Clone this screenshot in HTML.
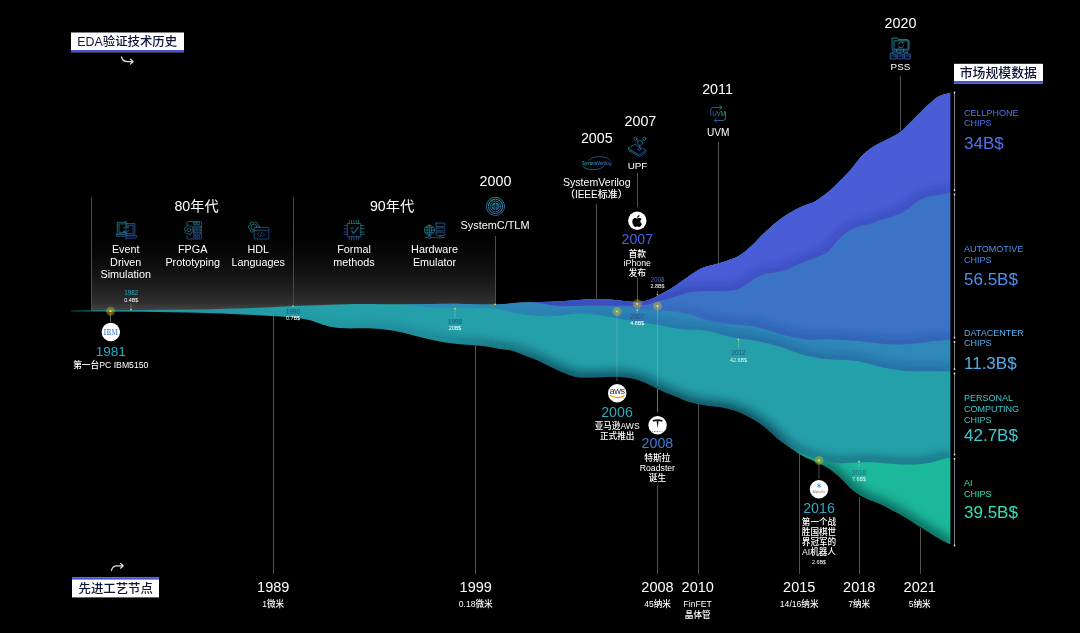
<!DOCTYPE html><html lang="zh"><head><meta charset="utf-8"><title>EDA验证技术历史</title>
<style>html,body{margin:0;padding:0;background:#000;}body{width:1080px;height:633px;overflow:hidden;}svg{display:block;font-family:"Liberation Sans","Noto Sans CJK SC",sans-serif;}text{white-space:pre;}</style></head><body>
<svg width="1080" height="633" viewBox="0 0 1080 633">
<defs>
<linearGradient id="gbox" x1="0" y1="197" x2="0" y2="311" gradientUnits="userSpaceOnUse"><stop offset="0" stop-color="#fff" stop-opacity="0"/><stop offset="0.377" stop-color="#fff" stop-opacity="0.01"/><stop offset="0.509" stop-color="#fff" stop-opacity="0.032"/><stop offset="0.684" stop-color="#fff" stop-opacity="0.08"/><stop offset="0.842" stop-color="#fff" stop-opacity="0.14"/><stop offset="0.93" stop-color="#fff" stop-opacity="0.19"/><stop offset="1" stop-color="#fff" stop-opacity="0.27"/></linearGradient>
<linearGradient id="gicon" x1="0" y1="0" x2="1" y2="1"><stop offset="0" stop-color="#1fa39a"/><stop offset="1" stop-color="#3452b4"/></linearGradient>
<linearGradient id="gteal" x1="71" y1="0" x2="951" y2="0" gradientUnits="userSpaceOnUse"><stop offset="0" stop-color="#1c8f9b"/><stop offset="0.3" stop-color="#24a0aa"/><stop offset="1" stop-color="#24a0aa"/></linearGradient>
<linearGradient id="ggrn" x1="790" y1="0" x2="951" y2="0" gradientUnits="userSpaceOnUse"><stop offset="0" stop-color="#1fae9f"/><stop offset="0.5" stop-color="#1bb89c"/><stop offset="1" stop-color="#1bb89c"/></linearGradient>
<radialGradient id="glow"><stop offset="0" stop-color="#f5e12a" stop-opacity="1"/><stop offset="0.17" stop-color="#f5e12a" stop-opacity="1"/><stop offset="0.27" stop-color="#d8c62c" stop-opacity="0.5"/><stop offset="1" stop-color="#d8c62c" stop-opacity="0.32"/></radialGradient>
<filter id="blur" x="-5%" y="-50%" width="110%" height="200%"><feGaussianBlur stdDeviation="5.2"/></filter>
<filter id="blur2" x="-5%" y="-50%" width="110%" height="200%"><feGaussianBlur stdDeviation="5.2"/></filter>
<clipPath id="cgrn"><path d="M790.6 446.0C794.7 448.1 798.9 450.6 803.0 452.3C807.3 454.1 811.5 455.3 815.8 456.6C820.0 457.9 824.3 459.1 828.5 459.9C832.7 460.7 836.8 461.1 841.0 461.2C845.3 461.3 849.5 460.9 853.8 460.7C858.0 460.5 862.2 459.9 866.4 459.9C870.6 459.9 874.8 460.4 879.0 460.7C883.2 461.0 887.5 461.4 891.7 461.7C895.9 462.0 900.1 462.4 904.3 462.5C908.5 462.6 912.8 462.8 917.0 462.5C921.2 462.2 925.4 461.6 929.6 460.7C933.7 459.9 937.9 458.4 942.0 457.4C945.0 456.7 948.0 456.2 951.0 455.6L951.0 544.6C948.0 543.2 945.0 542.0 942.0 540.3C937.9 538.0 933.7 535.2 929.6 532.7C925.4 530.1 921.2 527.6 917.0 525.0C912.8 522.3 908.5 519.3 904.3 516.8C900.1 514.3 895.9 512.2 891.7 510.0C887.5 507.8 883.2 505.5 879.0 503.6C874.8 501.7 870.6 500.7 866.4 498.6C862.2 496.5 858.0 494.3 853.8 491.0C849.5 487.6 845.3 482.2 841.0 478.4C836.8 474.7 832.7 471.0 828.5 468.3C824.3 465.5 820.0 464.0 815.8 462.0C811.5 459.9 807.3 458.4 803.0 456.0C798.9 453.7 794.7 450.7 790.6 448.0Z"/></clipPath>
<clipPath id="cteal"><path d="M71.0 310.7C95.0 310.5 119.0 310.2 143.0 310.0C161.7 309.8 180.3 309.7 199.0 309.4C217.3 309.1 235.7 308.6 254.0 308.0C267.0 307.5 280.0 306.7 293.0 306.1C307.9 305.5 322.9 304.8 337.8 304.4C348.5 304.1 359.3 304.0 370.0 304.0C382.3 304.0 394.7 304.3 407.0 304.3C423.0 304.2 439.0 303.7 455.0 303.7C468.3 303.7 481.7 304.7 495.0 304.5C503.7 304.4 512.3 303.1 521.0 302.6C527.7 302.2 534.3 302.1 541.0 301.9C547.8 301.7 554.7 301.7 561.5 301.3C568.3 300.9 575.2 300.2 582.0 299.7C586.7 299.4 591.3 298.9 596.0 298.9C601.3 298.9 606.7 299.3 612.0 299.7C616.7 300.1 621.3 300.8 626.0 301.2C630.0 301.6 634.0 302.3 638.0 302.0C642.0 301.7 646.0 300.9 650.0 299.5C654.3 297.9 658.7 295.4 663.0 293.0C667.3 290.7 671.5 288.3 675.8 285.5C680.0 282.8 684.3 279.4 688.5 276.5C692.7 273.7 696.8 270.5 701.0 268.5C705.2 266.5 709.5 265.9 713.7 264.7C717.9 263.4 722.2 262.5 726.4 261.0C730.6 259.5 734.8 258.3 739.0 255.8C743.2 253.2 747.5 249.5 751.7 245.7C755.9 241.9 760.1 237.0 764.3 233.0C768.5 229.0 772.8 225.0 777.0 221.7C781.2 218.4 785.4 215.6 789.6 213.0C793.7 210.5 797.9 208.4 802.0 206.5C806.3 204.5 810.6 203.8 814.9 201.5C819.1 199.2 823.3 196.0 827.5 192.6C831.7 189.2 835.8 185.1 840.0 181.0C843.9 177.1 847.9 173.0 851.8 168.5C855.2 164.6 858.6 159.3 862.0 155.8C865.3 152.4 868.7 149.8 872.0 147.6C877.0 144.4 882.0 142.3 887.0 139.6C891.3 137.3 895.5 135.3 899.8 132.4C902.3 130.7 904.9 128.2 907.4 125.8C910.8 122.6 914.1 119.0 917.5 115.6C920.9 112.2 924.2 108.6 927.6 105.5C931.0 102.4 934.3 99.2 937.7 97.0C940.1 95.4 942.6 94.9 945.0 94.2C947.0 93.6 949.0 93.4 951.0 93.0L951.0 457.6C948.0 458.2 945.0 458.7 942.0 459.4C937.9 460.4 933.7 461.9 929.6 462.7C925.4 463.6 921.2 464.2 917.0 464.5C912.8 464.8 908.5 464.6 904.3 464.5C900.1 464.4 895.9 464.0 891.7 463.7C887.5 463.4 883.2 463.0 879.0 462.7C874.8 462.4 870.6 461.9 866.4 461.9C862.2 461.9 858.0 462.5 853.8 462.7C849.5 462.9 845.3 463.3 841.0 463.2C836.8 463.1 832.7 462.7 828.5 461.9C824.3 461.1 820.0 459.9 815.8 458.6C811.5 457.3 807.3 456.1 803.0 454.3C798.9 452.6 794.7 450.5 790.6 448.0C786.4 445.4 782.2 442.4 778.0 439.0C773.8 435.6 769.5 430.8 765.3 427.5C761.1 424.2 756.9 421.5 752.7 419.0C748.5 416.5 744.2 414.2 740.0 412.4C735.8 410.7 731.7 409.5 727.5 408.5C723.3 407.5 719.2 407.1 715.0 406.5C710.7 405.9 706.3 405.5 702.0 404.7C697.9 404.0 693.7 403.3 689.6 402.0C685.4 400.7 681.2 398.7 677.0 397.0C672.8 395.3 668.5 393.9 664.3 392.0C660.1 390.1 655.9 387.6 651.7 385.7C647.5 383.7 643.2 381.7 639.0 380.3C634.8 378.9 630.6 378.1 626.4 377.5C622.2 376.9 618.0 376.8 613.8 376.8C609.5 376.7 605.3 377.1 601.0 377.2C596.8 377.3 592.7 377.6 588.5 377.6C584.3 377.5 580.0 377.7 575.8 376.9C571.5 376.1 567.3 374.3 563.0 372.6C558.9 370.9 554.7 368.8 550.6 366.8C546.4 364.8 542.2 362.3 538.0 360.4C533.7 358.5 529.3 357.1 525.0 355.4C520.9 353.8 516.7 351.8 512.6 350.7C508.4 349.6 504.2 349.7 500.0 349.0C495.0 348.2 490.0 347.0 485.0 346.3C480.0 345.6 475.0 345.5 470.0 345.0C461.7 344.2 453.3 343.8 445.0 342.5C436.7 341.2 428.3 338.9 420.0 337.0C411.7 335.1 403.3 332.4 395.0 331.0C386.7 329.6 378.3 328.8 370.0 328.3C361.7 327.9 353.3 328.6 345.0 328.3C340.7 328.2 336.3 327.8 332.0 327.0C328.0 326.3 324.0 324.9 320.0 323.7C316.7 322.7 313.3 321.1 310.0 320.3C305.0 319.1 300.0 318.3 295.0 317.7C290.0 317.1 285.0 316.8 280.0 316.5C271.3 315.9 262.7 315.4 254.0 315.0C235.7 314.2 217.3 313.3 199.0 312.8C180.3 312.2 161.7 311.9 143.0 311.7C119.0 311.4 95.0 311.4 71.0 311.3Z"/></clipPath>
<clipPath id="cdc"><path d="M400.0 304.3C402.3 304.3 404.7 304.3 407.0 304.3C423.0 304.1 439.0 303.7 455.0 303.7C468.3 303.7 481.7 304.7 495.0 304.5C503.7 304.4 512.3 303.1 521.0 302.6C527.7 302.2 534.3 302.1 541.0 301.9C547.8 301.7 554.7 301.7 561.5 301.3C568.3 300.9 575.2 300.2 582.0 299.7C586.7 299.4 591.3 298.9 596.0 298.9C601.3 298.9 606.7 299.3 612.0 299.7C616.7 300.1 621.3 300.8 626.0 301.2C630.0 301.6 634.0 302.3 638.0 302.0C642.0 301.7 646.0 300.9 650.0 299.5C654.3 297.9 658.7 295.4 663.0 293.0C667.3 290.7 671.5 288.3 675.8 285.5C680.0 282.8 684.3 279.4 688.5 276.5C692.7 273.7 696.8 270.5 701.0 268.5C705.2 266.5 709.5 265.9 713.7 264.7C717.9 263.4 722.2 262.5 726.4 261.0C730.6 259.5 734.8 258.3 739.0 255.8C743.2 253.2 747.5 249.5 751.7 245.7C755.9 241.9 760.1 237.0 764.3 233.0C768.5 229.0 772.8 225.0 777.0 221.7C781.2 218.4 785.4 215.6 789.6 213.0C793.7 210.5 797.9 208.4 802.0 206.5C806.3 204.5 810.6 203.8 814.9 201.5C819.1 199.2 823.3 196.0 827.5 192.6C831.7 189.2 835.8 185.1 840.0 181.0C843.9 177.1 847.9 173.0 851.8 168.5C855.2 164.6 858.6 159.3 862.0 155.8C865.3 152.4 868.7 149.8 872.0 147.6C877.0 144.4 882.0 142.3 887.0 139.6C891.3 137.3 895.5 135.3 899.8 132.4C902.3 130.7 904.9 128.2 907.4 125.8C910.8 122.6 914.1 119.0 917.5 115.6C920.9 112.2 924.2 108.6 927.6 105.5C931.0 102.4 934.3 99.2 937.7 97.0C940.1 95.4 942.6 94.9 945.0 94.2C947.0 93.6 949.0 93.4 951.0 93.0L951.0 371.4C944.9 371.4 938.9 371.4 932.8 371.3C924.4 371.2 915.9 371.7 907.5 371.0C899.0 370.3 890.5 368.9 882.0 367.2C873.7 365.5 865.3 362.2 857.0 360.9C848.6 359.6 840.1 360.4 831.7 359.6C823.3 358.8 814.8 357.9 806.4 355.8C797.9 353.7 789.5 349.5 781.0 347.0C772.6 344.5 764.2 342.4 755.8 340.7C747.4 339.0 739.0 338.6 730.6 336.9C722.1 335.2 713.5 331.9 705.0 330.6C697.9 329.5 690.8 330.3 683.7 329.5C676.8 328.7 669.9 326.9 663.0 325.7C656.3 324.6 649.7 323.7 643.0 322.7C636.2 321.7 629.4 320.8 622.6 319.6C615.7 318.4 608.9 316.5 602.0 315.5C595.3 314.5 588.7 313.5 582.0 313.5C575.2 313.5 568.3 315.0 561.5 315.5C556.6 315.9 551.6 316.2 546.7 316.2C541.1 316.2 535.6 315.9 530.0 315.3C524.3 314.7 518.7 313.9 513.0 312.8C507.7 311.7 502.3 309.4 497.0 308.7C491.3 307.9 485.7 308.3 480.0 308.2C471.7 308.1 463.3 308.3 455.0 308.2C446.7 308.1 438.3 307.9 430.0 307.3C420.0 306.6 410.0 305.3 400.0 304.3Z"/></clipPath>
<clipPath id="cblu"><path d="M596.0 298.9C601.3 299.2 606.7 299.3 612.0 299.7C616.7 300.1 621.3 300.8 626.0 301.2C630.0 301.6 634.0 302.3 638.0 302.0C642.0 301.7 646.0 300.9 650.0 299.5C654.3 297.9 658.7 295.4 663.0 293.0C667.3 290.7 671.5 288.3 675.8 285.5C680.0 282.8 684.3 279.4 688.5 276.5C692.7 273.7 696.8 270.5 701.0 268.5C705.2 266.5 709.5 265.9 713.7 264.7C717.9 263.4 722.2 262.5 726.4 261.0C730.6 259.5 734.8 258.3 739.0 255.8C743.2 253.2 747.5 249.5 751.7 245.7C755.9 241.9 760.1 237.0 764.3 233.0C768.5 229.0 772.8 225.0 777.0 221.7C781.2 218.4 785.4 215.6 789.6 213.0C793.7 210.5 797.9 208.4 802.0 206.5C806.3 204.5 810.6 203.8 814.9 201.5C819.1 199.2 823.3 196.0 827.5 192.6C831.7 189.2 835.8 185.1 840.0 181.0C843.9 177.1 847.9 173.0 851.8 168.5C855.2 164.6 858.6 159.3 862.0 155.8C865.3 152.4 868.7 149.8 872.0 147.6C877.0 144.4 882.0 142.3 887.0 139.6C891.3 137.3 895.5 135.3 899.8 132.4C902.3 130.7 904.9 128.2 907.4 125.8C910.8 122.6 914.1 119.0 917.5 115.6C920.9 112.2 924.2 108.6 927.6 105.5C931.0 102.4 934.3 99.2 937.7 97.0C940.1 95.4 942.6 94.9 945.0 94.2C947.0 93.6 949.0 93.4 951.0 93.0L951.0 339.8C944.9 340.2 938.9 340.4 932.8 341.0C925.9 341.7 918.9 343.1 912.0 343.8C907.3 344.3 902.7 344.4 898.0 344.4C892.7 344.4 887.3 344.2 882.0 343.7C873.7 342.9 865.3 341.4 857.0 340.7C848.6 340.0 840.1 339.6 831.7 339.4C823.3 339.2 814.8 340.2 806.4 339.4C797.9 338.5 789.5 336.4 781.0 334.3C772.6 332.2 764.2 328.5 755.8 326.8C747.4 325.1 739.0 325.3 730.6 324.3C724.3 323.5 718.0 322.6 711.7 321.5C709.5 321.1 707.2 320.7 705.0 320.0C700.9 318.6 696.8 316.3 692.7 315.2C686.4 313.5 680.0 312.3 673.7 311.5C667.5 310.7 661.2 310.8 655.0 310.3C648.7 309.8 642.3 308.9 636.0 308.4C629.3 307.8 622.7 307.5 616.0 307.0C609.3 306.5 602.7 306.0 596.0 305.5Z"/></clipPath>
<clipPath id="cind"><path d="M531.0 302.2C534.3 302.1 537.7 302.0 541.0 301.9C547.8 301.7 554.7 301.7 561.5 301.3C568.3 300.9 575.2 300.2 582.0 299.7C586.7 299.4 591.3 298.9 596.0 298.9C601.3 298.9 606.7 299.3 612.0 299.7C616.7 300.1 621.3 300.8 626.0 301.2C630.0 301.6 634.0 302.3 638.0 302.0C642.0 301.7 646.0 300.9 650.0 299.5C654.3 297.9 658.7 295.4 663.0 293.0C667.3 290.7 671.5 288.3 675.8 285.5C680.0 282.8 684.3 279.4 688.5 276.5C692.7 273.7 696.8 270.5 701.0 268.5C705.2 266.5 709.5 265.9 713.7 264.7C717.9 263.4 722.2 262.5 726.4 261.0C730.6 259.5 734.8 258.3 739.0 255.8C743.2 253.2 747.5 249.5 751.7 245.7C755.9 241.9 760.1 237.0 764.3 233.0C768.5 229.0 772.8 225.0 777.0 221.7C781.2 218.4 785.4 215.6 789.6 213.0C793.7 210.5 797.9 208.4 802.0 206.5C806.3 204.5 810.6 203.8 814.9 201.5C819.1 199.2 823.3 196.0 827.5 192.6C831.7 189.2 835.8 185.1 840.0 181.0C843.9 177.1 847.9 173.0 851.8 168.5C855.2 164.6 858.6 159.3 862.0 155.8C865.3 152.4 868.7 149.8 872.0 147.6C877.0 144.4 882.0 142.3 887.0 139.6C891.3 137.3 895.5 135.3 899.8 132.4C902.3 130.7 904.9 128.2 907.4 125.8C910.8 122.6 914.1 119.0 917.5 115.6C920.9 112.2 924.2 108.6 927.6 105.5C931.0 102.4 934.3 99.2 937.7 97.0C940.1 95.4 942.6 94.9 945.0 94.2C947.0 93.6 949.0 93.4 951.0 93.0L951.0 192.5C946.6 193.3 942.1 194.2 937.7 195.0C934.3 195.6 931.0 195.8 927.6 196.8C924.2 197.9 920.9 199.2 917.5 201.3C915.0 202.8 912.5 205.7 910.0 207.6C907.4 209.5 904.9 211.4 902.3 212.7C898.9 214.4 895.6 215.4 892.2 216.5C888.0 217.9 883.8 218.9 879.6 220.3C876.4 221.4 873.2 223.0 870.0 224.0C865.9 225.2 861.9 225.4 857.8 226.8C854.4 228.0 851.1 229.5 847.7 231.8C844.3 234.1 841.0 237.3 837.6 240.7C834.2 244.1 830.9 249.3 827.5 252.0C824.1 254.7 820.8 255.5 817.4 257.0C814.0 258.5 810.7 259.6 807.3 260.9C803.9 262.2 800.4 263.2 797.0 264.7C793.7 266.1 790.3 268.4 787.0 269.7C783.7 271.0 780.3 271.7 777.0 272.3C773.6 272.9 770.2 272.7 766.8 273.5C763.4 274.3 760.1 275.5 756.7 277.3C753.6 278.9 750.6 281.5 747.5 283.6C745.7 284.8 743.8 286.2 742.0 287.2C740.0 288.3 738.0 289.3 736.0 289.8C732.8 290.6 729.6 290.9 726.4 291.0C717.9 291.3 709.5 290.9 701.0 291.2C696.8 291.4 692.7 291.7 688.5 292.5C684.3 293.4 680.0 295.1 675.8 296.3C671.5 297.6 667.3 298.8 663.0 300.0C659.7 301.0 656.3 302.1 653.0 302.9C649.7 303.7 646.3 304.6 643.0 304.9C636.2 305.5 629.4 305.7 622.6 305.8C615.7 305.9 608.9 305.4 602.0 305.4C595.3 305.4 588.7 305.6 582.0 305.7C575.2 305.8 568.3 306.5 561.5 306.2C554.7 305.9 547.8 304.5 541.0 303.6C537.7 303.2 534.3 302.7 531.0 302.3Z"/></clipPath>
<clipPath id="cbox"><path d="M91.5 190L91.5 311.1 L143.0 310.6 L199.0 310.0 L254.0 308.6 L293.0 306.7 L337.8 305.0 L370.0 304.6 L407.0 304.9 L455.0 304.3 L495.0 305.1 L495 190Z"/></clipPath>
<clipPath id="cstream"><rect x="0" y="0" width="950.4" height="633"/></clipPath>
</defs>
<rect width="1080" height="633" fill="#000"/>
<rect x="91.5" y="195" width="403.5" height="118" fill="url(#gbox)" clip-path="url(#cbox)"/>
<line x1="91.5" y1="197.0" x2="91.5" y2="311.0" stroke="#484848" stroke-width="1"/>
<line x1="293.5" y1="197.0" x2="293.5" y2="307.0" stroke="#484848" stroke-width="1"/>
<line x1="495.5" y1="236.0" x2="495.5" y2="305.0" stroke="#4c4c4c" stroke-width="1"/>
<line x1="596.5" y1="204.0" x2="596.5" y2="300.0" stroke="#525252" stroke-width="1"/>
<line x1="637.5" y1="173.0" x2="637.5" y2="207.0" stroke="#525252" stroke-width="1"/>
<line x1="637.5" y1="278.0" x2="637.5" y2="303.0" stroke="#525252" stroke-width="1"/>
<line x1="718.5" y1="142.0" x2="718.5" y2="264.0" stroke="#525252" stroke-width="1"/>
<line x1="900.5" y1="76.0" x2="900.5" y2="131.0" stroke="#525252" stroke-width="1"/>
<line x1="273.5" y1="316.0" x2="273.5" y2="574.0" stroke="#525252" stroke-width="1"/>
<line x1="475.5" y1="345.0" x2="475.5" y2="574.0" stroke="#525252" stroke-width="1"/>
<line x1="657.5" y1="486.0" x2="657.5" y2="574.0" stroke="#525252" stroke-width="1"/>
<line x1="698.5" y1="404.0" x2="698.5" y2="574.0" stroke="#525252" stroke-width="1"/>
<line x1="799.5" y1="452.0" x2="799.5" y2="574.0" stroke="#525252" stroke-width="1"/>
<line x1="859.5" y1="497.0" x2="859.5" y2="574.0" stroke="#525252" stroke-width="1"/>
<line x1="920.5" y1="528.0" x2="920.5" y2="574.0" stroke="#525252" stroke-width="1"/>
<line x1="110.5" y1="313.0" x2="110.5" y2="322.0" stroke="#525252" stroke-width="1"/>
<line x1="617.0" y1="376.0" x2="617.0" y2="381.0" stroke="#555" stroke-width="1"/>
<line x1="657.5" y1="386.0" x2="657.5" y2="412.0" stroke="#6e6e6e" stroke-width="1"/>
<linearGradient id="sgrn" x1="0" y1="0" x2="951" y2="0" gradientUnits="userSpaceOnUse"><stop offset="0.8360" stop-color="#043434" stop-opacity="0"/><stop offset="0.8780" stop-color="#043434" stop-opacity="0.75"/><stop offset="1.0000" stop-color="#043434" stop-opacity="0.75"/></linearGradient>
<path d="M790.6 446.0C794.7 448.1 798.9 450.6 803.0 452.3C807.3 454.1 811.5 455.3 815.8 456.6C820.0 457.9 824.3 459.1 828.5 459.9C832.7 460.7 836.8 461.1 841.0 461.2C845.3 461.3 849.5 460.9 853.8 460.7C858.0 460.5 862.2 459.9 866.4 459.9C870.6 459.9 874.8 460.4 879.0 460.7C883.2 461.0 887.5 461.4 891.7 461.7C895.9 462.0 900.1 462.4 904.3 462.5C908.5 462.6 912.8 462.8 917.0 462.5C921.2 462.2 925.4 461.6 929.6 460.7C933.7 459.9 937.9 458.4 942.0 457.4C945.0 456.7 948.0 456.2 951.0 455.6L951.0 544.6C948.0 543.2 945.0 542.0 942.0 540.3C937.9 538.0 933.7 535.2 929.6 532.7C925.4 530.1 921.2 527.6 917.0 525.0C912.8 522.3 908.5 519.3 904.3 516.8C900.1 514.3 895.9 512.2 891.7 510.0C887.5 507.8 883.2 505.5 879.0 503.6C874.8 501.7 870.6 500.7 866.4 498.6C862.2 496.5 858.0 494.3 853.8 491.0C849.5 487.6 845.3 482.2 841.0 478.4C836.8 474.7 832.7 471.0 828.5 468.3C824.3 465.5 820.0 464.0 815.8 462.0C811.5 459.9 807.3 458.4 803.0 456.0C798.9 453.7 794.7 450.7 790.6 448.0Z" fill="url(#ggrn)"/>
<g clip-path="url(#cgrn)"><path d="M790.6 448.0C794.7 450.7 798.9 453.7 803.0 456.0C807.3 458.4 811.5 459.9 815.8 462.0C820.0 464.0 824.3 465.5 828.5 468.3C832.7 471.0 836.8 474.7 841.0 478.4C845.3 482.2 849.5 487.6 853.8 491.0C858.0 494.3 862.2 496.5 866.4 498.6C870.6 500.7 874.8 501.7 879.0 503.6C883.2 505.5 887.5 507.8 891.7 510.0C895.9 512.2 900.1 514.3 904.3 516.8C908.5 519.3 912.8 522.3 917.0 525.0C921.2 527.6 925.4 530.1 929.6 532.7C933.7 535.2 937.9 538.0 942.0 540.3C945.0 542.0 948.0 543.2 951.0 544.6" fill="none" stroke="url(#sgrn)" stroke-width="10" filter="url(#blur)"/></g>
<linearGradient id="steal" x1="0" y1="0" x2="951" y2="0" gradientUnits="userSpaceOnUse"><stop offset="0.2944" stop-color="#031a30" stop-opacity="0"/><stop offset="0.4732" stop-color="#031a30" stop-opacity="0.3"/><stop offset="0.5889" stop-color="#031a30" stop-opacity="0.75"/><stop offset="0.8149" stop-color="#031a30" stop-opacity="0.8"/><stop offset="0.8412" stop-color="#031a30" stop-opacity="0.42"/><stop offset="1.0000" stop-color="#031a30" stop-opacity="0.42"/></linearGradient>
<path d="M71.0 310.7C95.0 310.5 119.0 310.2 143.0 310.0C161.7 309.8 180.3 309.7 199.0 309.4C217.3 309.1 235.7 308.6 254.0 308.0C267.0 307.5 280.0 306.7 293.0 306.1C307.9 305.5 322.9 304.8 337.8 304.4C348.5 304.1 359.3 304.0 370.0 304.0C382.3 304.0 394.7 304.3 407.0 304.3C423.0 304.2 439.0 303.7 455.0 303.7C468.3 303.7 481.7 304.7 495.0 304.5C503.7 304.4 512.3 303.1 521.0 302.6C527.7 302.2 534.3 302.1 541.0 301.9C547.8 301.7 554.7 301.7 561.5 301.3C568.3 300.9 575.2 300.2 582.0 299.7C586.7 299.4 591.3 298.9 596.0 298.9C601.3 298.9 606.7 299.3 612.0 299.7C616.7 300.1 621.3 300.8 626.0 301.2C630.0 301.6 634.0 302.3 638.0 302.0C642.0 301.7 646.0 300.9 650.0 299.5C654.3 297.9 658.7 295.4 663.0 293.0C667.3 290.7 671.5 288.3 675.8 285.5C680.0 282.8 684.3 279.4 688.5 276.5C692.7 273.7 696.8 270.5 701.0 268.5C705.2 266.5 709.5 265.9 713.7 264.7C717.9 263.4 722.2 262.5 726.4 261.0C730.6 259.5 734.8 258.3 739.0 255.8C743.2 253.2 747.5 249.5 751.7 245.7C755.9 241.9 760.1 237.0 764.3 233.0C768.5 229.0 772.8 225.0 777.0 221.7C781.2 218.4 785.4 215.6 789.6 213.0C793.7 210.5 797.9 208.4 802.0 206.5C806.3 204.5 810.6 203.8 814.9 201.5C819.1 199.2 823.3 196.0 827.5 192.6C831.7 189.2 835.8 185.1 840.0 181.0C843.9 177.1 847.9 173.0 851.8 168.5C855.2 164.6 858.6 159.3 862.0 155.8C865.3 152.4 868.7 149.8 872.0 147.6C877.0 144.4 882.0 142.3 887.0 139.6C891.3 137.3 895.5 135.3 899.8 132.4C902.3 130.7 904.9 128.2 907.4 125.8C910.8 122.6 914.1 119.0 917.5 115.6C920.9 112.2 924.2 108.6 927.6 105.5C931.0 102.4 934.3 99.2 937.7 97.0C940.1 95.4 942.6 94.9 945.0 94.2C947.0 93.6 949.0 93.4 951.0 93.0L951.0 457.6C948.0 458.2 945.0 458.7 942.0 459.4C937.9 460.4 933.7 461.9 929.6 462.7C925.4 463.6 921.2 464.2 917.0 464.5C912.8 464.8 908.5 464.6 904.3 464.5C900.1 464.4 895.9 464.0 891.7 463.7C887.5 463.4 883.2 463.0 879.0 462.7C874.8 462.4 870.6 461.9 866.4 461.9C862.2 461.9 858.0 462.5 853.8 462.7C849.5 462.9 845.3 463.3 841.0 463.2C836.8 463.1 832.7 462.7 828.5 461.9C824.3 461.1 820.0 459.9 815.8 458.6C811.5 457.3 807.3 456.1 803.0 454.3C798.9 452.6 794.7 450.5 790.6 448.0C786.4 445.4 782.2 442.4 778.0 439.0C773.8 435.6 769.5 430.8 765.3 427.5C761.1 424.2 756.9 421.5 752.7 419.0C748.5 416.5 744.2 414.2 740.0 412.4C735.8 410.7 731.7 409.5 727.5 408.5C723.3 407.5 719.2 407.1 715.0 406.5C710.7 405.9 706.3 405.5 702.0 404.7C697.9 404.0 693.7 403.3 689.6 402.0C685.4 400.7 681.2 398.7 677.0 397.0C672.8 395.3 668.5 393.9 664.3 392.0C660.1 390.1 655.9 387.6 651.7 385.7C647.5 383.7 643.2 381.7 639.0 380.3C634.8 378.9 630.6 378.1 626.4 377.5C622.2 376.9 618.0 376.8 613.8 376.8C609.5 376.7 605.3 377.1 601.0 377.2C596.8 377.3 592.7 377.6 588.5 377.6C584.3 377.5 580.0 377.7 575.8 376.9C571.5 376.1 567.3 374.3 563.0 372.6C558.9 370.9 554.7 368.8 550.6 366.8C546.4 364.8 542.2 362.3 538.0 360.4C533.7 358.5 529.3 357.1 525.0 355.4C520.9 353.8 516.7 351.8 512.6 350.7C508.4 349.6 504.2 349.7 500.0 349.0C495.0 348.2 490.0 347.0 485.0 346.3C480.0 345.6 475.0 345.5 470.0 345.0C461.7 344.2 453.3 343.8 445.0 342.5C436.7 341.2 428.3 338.9 420.0 337.0C411.7 335.1 403.3 332.4 395.0 331.0C386.7 329.6 378.3 328.8 370.0 328.3C361.7 327.9 353.3 328.6 345.0 328.3C340.7 328.2 336.3 327.8 332.0 327.0C328.0 326.3 324.0 324.9 320.0 323.7C316.7 322.7 313.3 321.1 310.0 320.3C305.0 319.1 300.0 318.3 295.0 317.7C290.0 317.1 285.0 316.8 280.0 316.5C271.3 315.9 262.7 315.4 254.0 315.0C235.7 314.2 217.3 313.3 199.0 312.8C180.3 312.2 161.7 311.9 143.0 311.7C119.0 311.4 95.0 311.4 71.0 311.3Z" fill="url(#gteal)"/>
<g clip-path="url(#cteal)"><path d="M71.0 311.3C95.0 311.4 119.0 311.4 143.0 311.7C161.7 311.9 180.3 312.2 199.0 312.8C217.3 313.3 235.7 314.2 254.0 315.0C262.7 315.4 271.3 315.9 280.0 316.5C285.0 316.8 290.0 317.1 295.0 317.7C300.0 318.3 305.0 319.1 310.0 320.3C313.3 321.1 316.7 322.7 320.0 323.7C324.0 324.9 328.0 326.3 332.0 327.0C336.3 327.8 340.7 328.2 345.0 328.3C353.3 328.6 361.7 327.9 370.0 328.3C378.3 328.8 386.7 329.6 395.0 331.0C403.3 332.4 411.7 335.1 420.0 337.0C428.3 338.9 436.7 341.2 445.0 342.5C453.3 343.8 461.7 344.2 470.0 345.0C475.0 345.5 480.0 345.6 485.0 346.3C490.0 347.0 495.0 348.2 500.0 349.0C504.2 349.7 508.4 349.6 512.6 350.7C516.7 351.8 520.9 353.8 525.0 355.4C529.3 357.1 533.7 358.5 538.0 360.4C542.2 362.3 546.4 364.8 550.6 366.8C554.7 368.8 558.9 370.9 563.0 372.6C567.3 374.3 571.5 376.1 575.8 376.9C580.0 377.7 584.3 377.5 588.5 377.6C592.7 377.6 596.8 377.3 601.0 377.2C605.3 377.1 609.5 376.7 613.8 376.8C618.0 376.8 622.2 376.9 626.4 377.5C630.6 378.1 634.8 378.9 639.0 380.3C643.2 381.7 647.5 383.7 651.7 385.7C655.9 387.6 660.1 390.1 664.3 392.0C668.5 393.9 672.8 395.3 677.0 397.0C681.2 398.7 685.4 400.7 689.6 402.0C693.7 403.3 697.9 404.0 702.0 404.7C706.3 405.5 710.7 405.9 715.0 406.5C719.2 407.1 723.3 407.5 727.5 408.5C731.7 409.5 735.8 410.7 740.0 412.4C744.2 414.2 748.5 416.5 752.7 419.0C756.9 421.5 761.1 424.2 765.3 427.5C769.5 430.8 773.8 435.6 778.0 439.0C782.2 442.4 786.4 445.4 790.6 448.0C794.7 450.5 798.9 452.6 803.0 454.3C807.3 456.1 811.5 457.3 815.8 458.6C820.0 459.9 824.3 461.1 828.5 461.9C832.7 462.7 836.8 463.1 841.0 463.2C845.3 463.3 849.5 462.9 853.8 462.7C858.0 462.5 862.2 461.9 866.4 461.9C870.6 461.9 874.8 462.4 879.0 462.7C883.2 463.0 887.5 463.4 891.7 463.7C895.9 464.0 900.1 464.4 904.3 464.5C908.5 464.6 912.8 464.8 917.0 464.5C921.2 464.2 925.4 463.6 929.6 462.7C933.7 461.9 937.9 460.4 942.0 459.4C945.0 458.7 948.0 458.2 951.0 457.6" fill="none" stroke="url(#steal)" stroke-width="9" filter="url(#blur2)"/></g>
<linearGradient id="sdc" x1="0" y1="0" x2="951" y2="0" gradientUnits="userSpaceOnUse"><stop offset="0.4942" stop-color="#14286e" stop-opacity="0"/><stop offset="0.7992" stop-color="#14286e" stop-opacity="0.42"/><stop offset="1.0000" stop-color="#14286e" stop-opacity="0.42"/></linearGradient>
<path d="M400.0 304.3C402.3 304.3 404.7 304.3 407.0 304.3C423.0 304.1 439.0 303.7 455.0 303.7C468.3 303.7 481.7 304.7 495.0 304.5C503.7 304.4 512.3 303.1 521.0 302.6C527.7 302.2 534.3 302.1 541.0 301.9C547.8 301.7 554.7 301.7 561.5 301.3C568.3 300.9 575.2 300.2 582.0 299.7C586.7 299.4 591.3 298.9 596.0 298.9C601.3 298.9 606.7 299.3 612.0 299.7C616.7 300.1 621.3 300.8 626.0 301.2C630.0 301.6 634.0 302.3 638.0 302.0C642.0 301.7 646.0 300.9 650.0 299.5C654.3 297.9 658.7 295.4 663.0 293.0C667.3 290.7 671.5 288.3 675.8 285.5C680.0 282.8 684.3 279.4 688.5 276.5C692.7 273.7 696.8 270.5 701.0 268.5C705.2 266.5 709.5 265.9 713.7 264.7C717.9 263.4 722.2 262.5 726.4 261.0C730.6 259.5 734.8 258.3 739.0 255.8C743.2 253.2 747.5 249.5 751.7 245.7C755.9 241.9 760.1 237.0 764.3 233.0C768.5 229.0 772.8 225.0 777.0 221.7C781.2 218.4 785.4 215.6 789.6 213.0C793.7 210.5 797.9 208.4 802.0 206.5C806.3 204.5 810.6 203.8 814.9 201.5C819.1 199.2 823.3 196.0 827.5 192.6C831.7 189.2 835.8 185.1 840.0 181.0C843.9 177.1 847.9 173.0 851.8 168.5C855.2 164.6 858.6 159.3 862.0 155.8C865.3 152.4 868.7 149.8 872.0 147.6C877.0 144.4 882.0 142.3 887.0 139.6C891.3 137.3 895.5 135.3 899.8 132.4C902.3 130.7 904.9 128.2 907.4 125.8C910.8 122.6 914.1 119.0 917.5 115.6C920.9 112.2 924.2 108.6 927.6 105.5C931.0 102.4 934.3 99.2 937.7 97.0C940.1 95.4 942.6 94.9 945.0 94.2C947.0 93.6 949.0 93.4 951.0 93.0L951.0 371.4C944.9 371.4 938.9 371.4 932.8 371.3C924.4 371.2 915.9 371.7 907.5 371.0C899.0 370.3 890.5 368.9 882.0 367.2C873.7 365.5 865.3 362.2 857.0 360.9C848.6 359.6 840.1 360.4 831.7 359.6C823.3 358.8 814.8 357.9 806.4 355.8C797.9 353.7 789.5 349.5 781.0 347.0C772.6 344.5 764.2 342.4 755.8 340.7C747.4 339.0 739.0 338.6 730.6 336.9C722.1 335.2 713.5 331.9 705.0 330.6C697.9 329.5 690.8 330.3 683.7 329.5C676.8 328.7 669.9 326.9 663.0 325.7C656.3 324.6 649.7 323.7 643.0 322.7C636.2 321.7 629.4 320.8 622.6 319.6C615.7 318.4 608.9 316.5 602.0 315.5C595.3 314.5 588.7 313.5 582.0 313.5C575.2 313.5 568.3 315.0 561.5 315.5C556.6 315.9 551.6 316.2 546.7 316.2C541.1 316.2 535.6 315.9 530.0 315.3C524.3 314.7 518.7 313.9 513.0 312.8C507.7 311.7 502.3 309.4 497.0 308.7C491.3 307.9 485.7 308.3 480.0 308.2C471.7 308.1 463.3 308.3 455.0 308.2C446.7 308.1 438.3 307.9 430.0 307.3C420.0 306.6 410.0 305.3 400.0 304.3Z" fill="#2e88b8"/>
<g clip-path="url(#cdc)"><path d="M400.0 304.3C410.0 305.3 420.0 306.6 430.0 307.3C438.3 307.9 446.7 308.1 455.0 308.2C463.3 308.3 471.7 308.1 480.0 308.2C485.7 308.3 491.3 307.9 497.0 308.7C502.3 309.4 507.7 311.7 513.0 312.8C518.7 313.9 524.3 314.7 530.0 315.3C535.6 315.9 541.1 316.2 546.7 316.2C551.6 316.2 556.6 315.9 561.5 315.5C568.3 315.0 575.2 313.5 582.0 313.5C588.7 313.5 595.3 314.5 602.0 315.5C608.9 316.5 615.7 318.4 622.6 319.6C629.4 320.8 636.2 321.7 643.0 322.7C649.7 323.7 656.3 324.6 663.0 325.7C669.9 326.9 676.8 328.7 683.7 329.5C690.8 330.3 697.9 329.5 705.0 330.6C713.5 331.9 722.1 335.2 730.6 336.9C739.0 338.6 747.4 339.0 755.8 340.7C764.2 342.4 772.6 344.5 781.0 347.0C789.5 349.5 797.9 353.7 806.4 355.8C814.8 357.9 823.3 358.8 831.7 359.6C840.1 360.4 848.6 359.6 857.0 360.9C865.3 362.2 873.7 365.5 882.0 367.2C890.5 368.9 899.0 370.3 907.5 371.0C915.9 371.7 924.4 371.2 932.8 371.3C938.9 371.4 944.9 371.4 951.0 371.4" fill="none" stroke="url(#sdc)" stroke-width="8" filter="url(#blur)"/></g>
<linearGradient id="sblu" x1="0" y1="0" x2="951" y2="0" gradientUnits="userSpaceOnUse"><stop offset="0.6519" stop-color="#1c2478" stop-opacity="0"/><stop offset="0.7992" stop-color="#1c2478" stop-opacity="0.4"/><stop offset="1.0000" stop-color="#1c2478" stop-opacity="0.4"/></linearGradient>
<path d="M596.0 298.9C601.3 299.2 606.7 299.3 612.0 299.7C616.7 300.1 621.3 300.8 626.0 301.2C630.0 301.6 634.0 302.3 638.0 302.0C642.0 301.7 646.0 300.9 650.0 299.5C654.3 297.9 658.7 295.4 663.0 293.0C667.3 290.7 671.5 288.3 675.8 285.5C680.0 282.8 684.3 279.4 688.5 276.5C692.7 273.7 696.8 270.5 701.0 268.5C705.2 266.5 709.5 265.9 713.7 264.7C717.9 263.4 722.2 262.5 726.4 261.0C730.6 259.5 734.8 258.3 739.0 255.8C743.2 253.2 747.5 249.5 751.7 245.7C755.9 241.9 760.1 237.0 764.3 233.0C768.5 229.0 772.8 225.0 777.0 221.7C781.2 218.4 785.4 215.6 789.6 213.0C793.7 210.5 797.9 208.4 802.0 206.5C806.3 204.5 810.6 203.8 814.9 201.5C819.1 199.2 823.3 196.0 827.5 192.6C831.7 189.2 835.8 185.1 840.0 181.0C843.9 177.1 847.9 173.0 851.8 168.5C855.2 164.6 858.6 159.3 862.0 155.8C865.3 152.4 868.7 149.8 872.0 147.6C877.0 144.4 882.0 142.3 887.0 139.6C891.3 137.3 895.5 135.3 899.8 132.4C902.3 130.7 904.9 128.2 907.4 125.8C910.8 122.6 914.1 119.0 917.5 115.6C920.9 112.2 924.2 108.6 927.6 105.5C931.0 102.4 934.3 99.2 937.7 97.0C940.1 95.4 942.6 94.9 945.0 94.2C947.0 93.6 949.0 93.4 951.0 93.0L951.0 339.8C944.9 340.2 938.9 340.4 932.8 341.0C925.9 341.7 918.9 343.1 912.0 343.8C907.3 344.3 902.7 344.4 898.0 344.4C892.7 344.4 887.3 344.2 882.0 343.7C873.7 342.9 865.3 341.4 857.0 340.7C848.6 340.0 840.1 339.6 831.7 339.4C823.3 339.2 814.8 340.2 806.4 339.4C797.9 338.5 789.5 336.4 781.0 334.3C772.6 332.2 764.2 328.5 755.8 326.8C747.4 325.1 739.0 325.3 730.6 324.3C724.3 323.5 718.0 322.6 711.7 321.5C709.5 321.1 707.2 320.7 705.0 320.0C700.9 318.6 696.8 316.3 692.7 315.2C686.4 313.5 680.0 312.3 673.7 311.5C667.5 310.7 661.2 310.8 655.0 310.3C648.7 309.8 642.3 308.9 636.0 308.4C629.3 307.8 622.7 307.5 616.0 307.0C609.3 306.5 602.7 306.0 596.0 305.5Z" fill="#3b74c6"/>
<g clip-path="url(#cblu)"><path d="M596.0 305.5C602.7 306.0 609.3 306.5 616.0 307.0C622.7 307.5 629.3 307.8 636.0 308.4C642.3 308.9 648.7 309.8 655.0 310.3C661.2 310.8 667.5 310.7 673.7 311.5C680.0 312.3 686.4 313.5 692.7 315.2C696.8 316.3 700.9 318.6 705.0 320.0C707.2 320.7 709.5 321.1 711.7 321.5C718.0 322.6 724.3 323.5 730.6 324.3C739.0 325.3 747.4 325.1 755.8 326.8C764.2 328.5 772.6 332.2 781.0 334.3C789.5 336.4 797.9 338.5 806.4 339.4C814.8 340.2 823.3 339.2 831.7 339.4C840.1 339.6 848.6 340.0 857.0 340.7C865.3 341.4 873.7 342.9 882.0 343.7C887.3 344.2 892.7 344.4 898.0 344.4C902.7 344.4 907.3 344.3 912.0 343.8C918.9 343.1 925.9 341.7 932.8 341.0C938.9 340.4 944.9 340.2 951.0 339.8" fill="none" stroke="url(#sblu)" stroke-width="8" filter="url(#blur)"/></g>
<linearGradient id="sind" x1="0" y1="0" x2="951" y2="0" gradientUnits="userSpaceOnUse"><stop offset="0.5584" stop-color="#1a2280" stop-opacity="0.55"/><stop offset="0.6940" stop-color="#1a2280" stop-opacity="0.5"/><stop offset="0.8202" stop-color="#1a2280" stop-opacity="0.4"/><stop offset="1.0000" stop-color="#1a2280" stop-opacity="0.4"/></linearGradient>
<path d="M531.0 302.2C534.3 302.1 537.7 302.0 541.0 301.9C547.8 301.7 554.7 301.7 561.5 301.3C568.3 300.9 575.2 300.2 582.0 299.7C586.7 299.4 591.3 298.9 596.0 298.9C601.3 298.9 606.7 299.3 612.0 299.7C616.7 300.1 621.3 300.8 626.0 301.2C630.0 301.6 634.0 302.3 638.0 302.0C642.0 301.7 646.0 300.9 650.0 299.5C654.3 297.9 658.7 295.4 663.0 293.0C667.3 290.7 671.5 288.3 675.8 285.5C680.0 282.8 684.3 279.4 688.5 276.5C692.7 273.7 696.8 270.5 701.0 268.5C705.2 266.5 709.5 265.9 713.7 264.7C717.9 263.4 722.2 262.5 726.4 261.0C730.6 259.5 734.8 258.3 739.0 255.8C743.2 253.2 747.5 249.5 751.7 245.7C755.9 241.9 760.1 237.0 764.3 233.0C768.5 229.0 772.8 225.0 777.0 221.7C781.2 218.4 785.4 215.6 789.6 213.0C793.7 210.5 797.9 208.4 802.0 206.5C806.3 204.5 810.6 203.8 814.9 201.5C819.1 199.2 823.3 196.0 827.5 192.6C831.7 189.2 835.8 185.1 840.0 181.0C843.9 177.1 847.9 173.0 851.8 168.5C855.2 164.6 858.6 159.3 862.0 155.8C865.3 152.4 868.7 149.8 872.0 147.6C877.0 144.4 882.0 142.3 887.0 139.6C891.3 137.3 895.5 135.3 899.8 132.4C902.3 130.7 904.9 128.2 907.4 125.8C910.8 122.6 914.1 119.0 917.5 115.6C920.9 112.2 924.2 108.6 927.6 105.5C931.0 102.4 934.3 99.2 937.7 97.0C940.1 95.4 942.6 94.9 945.0 94.2C947.0 93.6 949.0 93.4 951.0 93.0L951.0 192.5C946.6 193.3 942.1 194.2 937.7 195.0C934.3 195.6 931.0 195.8 927.6 196.8C924.2 197.9 920.9 199.2 917.5 201.3C915.0 202.8 912.5 205.7 910.0 207.6C907.4 209.5 904.9 211.4 902.3 212.7C898.9 214.4 895.6 215.4 892.2 216.5C888.0 217.9 883.8 218.9 879.6 220.3C876.4 221.4 873.2 223.0 870.0 224.0C865.9 225.2 861.9 225.4 857.8 226.8C854.4 228.0 851.1 229.5 847.7 231.8C844.3 234.1 841.0 237.3 837.6 240.7C834.2 244.1 830.9 249.3 827.5 252.0C824.1 254.7 820.8 255.5 817.4 257.0C814.0 258.5 810.7 259.6 807.3 260.9C803.9 262.2 800.4 263.2 797.0 264.7C793.7 266.1 790.3 268.4 787.0 269.7C783.7 271.0 780.3 271.7 777.0 272.3C773.6 272.9 770.2 272.7 766.8 273.5C763.4 274.3 760.1 275.5 756.7 277.3C753.6 278.9 750.6 281.5 747.5 283.6C745.7 284.8 743.8 286.2 742.0 287.2C740.0 288.3 738.0 289.3 736.0 289.8C732.8 290.6 729.6 290.9 726.4 291.0C717.9 291.3 709.5 290.9 701.0 291.2C696.8 291.4 692.7 291.7 688.5 292.5C684.3 293.4 680.0 295.1 675.8 296.3C671.5 297.6 667.3 298.8 663.0 300.0C659.7 301.0 656.3 302.1 653.0 302.9C649.7 303.7 646.3 304.6 643.0 304.9C636.2 305.5 629.4 305.7 622.6 305.8C615.7 305.9 608.9 305.4 602.0 305.4C595.3 305.4 588.7 305.6 582.0 305.7C575.2 305.8 568.3 306.5 561.5 306.2C554.7 305.9 547.8 304.5 541.0 303.6C537.7 303.2 534.3 302.7 531.0 302.3Z" fill="#4a5dd6"/>
<g clip-path="url(#cind)"><path d="M531.0 302.3C534.3 302.7 537.7 303.2 541.0 303.6C547.8 304.5 554.7 305.9 561.5 306.2C568.3 306.5 575.2 305.8 582.0 305.7C588.7 305.6 595.3 305.4 602.0 305.4C608.9 305.4 615.7 305.9 622.6 305.8C629.4 305.7 636.2 305.5 643.0 304.9C646.3 304.6 649.7 303.7 653.0 302.9C656.3 302.1 659.7 301.0 663.0 300.0C667.3 298.8 671.5 297.6 675.8 296.3C680.0 295.1 684.3 293.4 688.5 292.5C692.7 291.7 696.8 291.4 701.0 291.2C709.5 290.9 717.9 291.3 726.4 291.0C729.6 290.9 732.8 290.6 736.0 289.8C738.0 289.3 740.0 288.3 742.0 287.2C743.8 286.2 745.7 284.8 747.5 283.6C750.6 281.5 753.6 278.9 756.7 277.3C760.1 275.5 763.4 274.3 766.8 273.5C770.2 272.7 773.6 272.9 777.0 272.3C780.3 271.7 783.7 271.0 787.0 269.7C790.3 268.4 793.7 266.1 797.0 264.7C800.4 263.2 803.9 262.2 807.3 260.9C810.7 259.6 814.0 258.5 817.4 257.0C820.8 255.5 824.1 254.7 827.5 252.0C830.9 249.3 834.2 244.1 837.6 240.7C841.0 237.3 844.3 234.1 847.7 231.8C851.1 229.5 854.4 228.0 857.8 226.8C861.9 225.4 865.9 225.2 870.0 224.0C873.2 223.0 876.4 221.4 879.6 220.3C883.8 218.9 888.0 217.9 892.2 216.5C895.6 215.4 898.9 214.4 902.3 212.7C904.9 211.4 907.4 209.5 910.0 207.6C912.5 205.7 915.0 202.8 917.5 201.3C920.9 199.2 924.2 197.9 927.6 196.8C931.0 195.8 934.3 195.6 937.7 195.0C942.1 194.2 946.6 193.3 951.0 192.5" fill="none" stroke="url(#sind)" stroke-width="8" filter="url(#blur)"/></g>
<rect x="950.4" y="85" width="3.2" height="470" fill="#000"/>
<line x1="617.0" y1="312.0" x2="617.0" y2="376.0" stroke="#e8e8d0" stroke-width="1" stroke-opacity="0.2"/>
<line x1="657.5" y1="307.0" x2="657.5" y2="386.0" stroke="#e8e8d0" stroke-width="1" stroke-opacity="0.2"/>
<line x1="819.0" y1="463.0" x2="819.0" y2="479.0" stroke="#e8e8d0" stroke-width="1" stroke-opacity="0.3"/>
<line x1="954.5" y1="92.5" x2="954.5" y2="190.3" stroke="#7c7c7c" stroke-width="1"/>
<rect x="953.8" y="91.6" width="1.4" height="1.800" fill="#f0f0f0"/>
<rect x="953.8" y="189.4" width="1.4" height="1.800" fill="#f0f0f0"/>
<line x1="954.5" y1="194.4" x2="954.5" y2="337.7" stroke="#7c7c7c" stroke-width="1"/>
<rect x="953.8" y="193.5" width="1.4" height="1.800" fill="#f0f0f0"/>
<rect x="953.8" y="336.8" width="1.4" height="1.800" fill="#f0f0f0"/>
<line x1="954.5" y1="341.9" x2="954.5" y2="369.2" stroke="#7c7c7c" stroke-width="1"/>
<rect x="953.8" y="341.0" width="1.4" height="1.800" fill="#f0f0f0"/>
<rect x="953.8" y="368.3" width="1.4" height="1.800" fill="#f0f0f0"/>
<line x1="954.5" y1="373.5" x2="954.5" y2="454.6" stroke="#7c7c7c" stroke-width="1"/>
<rect x="953.8" y="372.6" width="1.4" height="1.800" fill="#f0f0f0"/>
<rect x="953.8" y="453.7" width="1.4" height="1.800" fill="#f0f0f0"/>
<line x1="954.5" y1="458.8" x2="954.5" y2="545.5" stroke="#7c7c7c" stroke-width="1"/>
<rect x="953.8" y="457.9" width="1.4" height="1.800" fill="#f0f0f0"/>
<rect x="953.8" y="544.6" width="1.4" height="1.800" fill="#f0f0f0"/>
<rect x="71" y="32.5" width="113" height="19.7" fill="#fff"/><rect x="71" y="50" width="113" height="2.2" fill="#3f55d2"/>
<text x="127.2" y="46.3" font-size="12.4" fill="#0e1538" text-anchor="middle" font-weight="500">EDA验证技术历史</text>
<rect x="954" y="63.8" width="89" height="19.7" fill="#fff"/><rect x="954" y="81" width="89" height="2.5" fill="#3f55d2"/>
<text x="998.3" y="77.3" font-size="12.9" fill="#0e1538" text-anchor="middle" font-weight="500">市场规模数据</text>
<rect x="72" y="577.4" width="87" height="20" fill="#fff"/><rect x="72" y="577.4" width="87" height="2.2" fill="#3f55d2"/>
<text x="115.7" y="593.2" font-size="12.4" fill="#0e1538" text-anchor="middle" font-weight="500">先进工艺节点</text>
<path d="M121.5 57c0.8 3.6 3 4.6 6 4.6h5.5M130.6 59.2l2.6 2.4-2.6 2.4" fill="none" stroke="#ddd" stroke-width="1.25" stroke-linecap="round" stroke-linejoin="round"/>
<path d="M111.5 570.5c0.6-3.6 2.6-4.7 5.6-4.7h6M120.6 563.4l2.6 2.4-2.6 2.4" fill="none" stroke="#ddd" stroke-width="1.25" stroke-linecap="round" stroke-linejoin="round"/>
<text x="196.5" y="211.3" font-size="14.2" fill="#fff" text-anchor="middle">80年代</text>
<text x="392.0" y="211.3" font-size="14.2" fill="#fff" text-anchor="middle">90年代</text>
<text x="495.5" y="186.0" font-size="14.3" fill="#fff" text-anchor="middle">2000</text>
<text x="495.0" y="229.3" font-size="10.9" fill="#fff" text-anchor="middle">SystemC/TLM</text>
<text x="125.7" y="253.2" font-size="10.8" fill="#fff" text-anchor="middle">Event</text>
<text x="125.7" y="265.5" font-size="10.8" fill="#fff" text-anchor="middle">Driven</text>
<text x="125.7" y="277.8" font-size="10.8" fill="#fff" text-anchor="middle">Simulation</text>
<text x="192.7" y="253.2" font-size="10.8" fill="#fff" text-anchor="middle">FPGA</text>
<text x="192.7" y="265.5" font-size="10.8" fill="#fff" text-anchor="middle">Prototyping</text>
<text x="258.2" y="253.2" font-size="10.8" fill="#fff" text-anchor="middle">HDL</text>
<text x="258.2" y="265.5" font-size="10.8" fill="#fff" text-anchor="middle">Languages</text>
<text x="354.0" y="253.2" font-size="10.8" fill="#fff" text-anchor="middle">Formal</text>
<text x="354.0" y="265.5" font-size="10.8" fill="#fff" text-anchor="middle">methods</text>
<text x="434.5" y="253.2" font-size="10.8" fill="#fff" text-anchor="middle">Hardware</text>
<text x="434.5" y="265.5" font-size="10.8" fill="#fff" text-anchor="middle">Emulator</text>
<text x="596.8" y="142.8" font-size="14.3" fill="#fff" text-anchor="middle">2005</text>
<text x="596.8" y="186.1" font-size="10.6" fill="#fff" text-anchor="middle">SystemVerilog</text>
<text x="596.3" y="198.3" font-size="10" fill="#fff" text-anchor="middle" font-weight="500">（IEEE标准）</text>
<text x="640.4" y="126.3" font-size="14.3" fill="#fff" text-anchor="middle">2007</text>
<text x="637.5" y="168.7" font-size="9.9" fill="#fff" text-anchor="middle">UPF</text>
<text x="717.5" y="93.9" font-size="14.3" fill="#fff" text-anchor="middle">2011</text>
<text x="718.2" y="136.3" font-size="10.1" fill="#fff" text-anchor="middle">UVM</text>
<text x="900.5" y="28.0" font-size="14.3" fill="#fff" text-anchor="middle">2020</text>
<text x="900.4" y="70.3" font-size="9.8" fill="#fff" text-anchor="middle">PSS</text>
<text x="273.2" y="591.9" font-size="14.5" fill="#fff" text-anchor="middle">1989</text>
<text x="273.2" y="607.2" font-size="8.6" fill="#fff" text-anchor="middle" font-weight="500">1微米</text>
<text x="475.7" y="591.9" font-size="14.5" fill="#fff" text-anchor="middle">1999</text>
<text x="475.7" y="607.2" font-size="8.6" fill="#fff" text-anchor="middle" font-weight="500">0.18微米</text>
<text x="657.5" y="591.9" font-size="14.5" fill="#fff" text-anchor="middle">2008</text>
<text x="657.5" y="607.2" font-size="8.6" fill="#fff" text-anchor="middle" font-weight="500">45纳米</text>
<text x="697.7" y="591.9" font-size="14.5" fill="#fff" text-anchor="middle">2010</text>
<text x="697.7" y="607.2" font-size="8.6" fill="#fff" text-anchor="middle" font-weight="500">FinFET</text>
<text x="697.7" y="617.8" font-size="8.6" fill="#fff" text-anchor="middle" font-weight="500">晶体管</text>
<text x="799.2" y="591.9" font-size="14.5" fill="#fff" text-anchor="middle">2015</text>
<text x="799.2" y="607.2" font-size="8.6" fill="#fff" text-anchor="middle" font-weight="500">14/16纳米</text>
<text x="859.2" y="591.9" font-size="14.5" fill="#fff" text-anchor="middle">2018</text>
<text x="859.2" y="607.2" font-size="8.6" fill="#fff" text-anchor="middle" font-weight="500">7纳米</text>
<text x="919.7" y="591.9" font-size="14.5" fill="#fff" text-anchor="middle">2021</text>
<text x="919.7" y="607.2" font-size="8.6" fill="#fff" text-anchor="middle" font-weight="500">5纳米</text>
<text x="964.0" y="115.7" font-size="9" fill="#5272ee" text-anchor="start">CELLPHONE</text>
<text x="964.0" y="126.4" font-size="9" fill="#5272ee" text-anchor="start">CHIPS</text>
<text x="964.0" y="148.5" font-size="17" fill="#5272ee" text-anchor="start">34B$</text>
<text x="964.0" y="252.2" font-size="9" fill="#4a92f2" text-anchor="start">AUTOMOTIVE</text>
<text x="964.0" y="262.9" font-size="9" fill="#4a92f2" text-anchor="start">CHIPS</text>
<text x="964.0" y="285.2" font-size="17" fill="#4a92f2" text-anchor="start">56.5B$</text>
<text x="964.0" y="335.7" font-size="9" fill="#52acec" text-anchor="start">DATACENTER</text>
<text x="964.0" y="346.4" font-size="9" fill="#52acec" text-anchor="start">CHIPS</text>
<text x="964.0" y="369.1" font-size="17" fill="#52acec" text-anchor="start">11.3B$</text>
<text x="964.0" y="401.2" font-size="9" fill="#3ccad4" text-anchor="start">PERSONAL</text>
<text x="964.0" y="411.9" font-size="9" fill="#3ccad4" text-anchor="start">COMPUTING</text>
<text x="964.0" y="422.6" font-size="9" fill="#3ccad4" text-anchor="start">CHIPS</text>
<text x="964.0" y="441.2" font-size="17" fill="#3ccad4" text-anchor="start">42.7B$</text>
<text x="964.0" y="485.9" font-size="9" fill="#2ee4bc" text-anchor="start">AI</text>
<text x="964.0" y="496.6" font-size="9" fill="#2ee4bc" text-anchor="start">CHIPS</text>
<text x="964.0" y="518.2" font-size="17" fill="#2ee4bc" text-anchor="start">39.5B$</text>
<circle cx="110.5" cy="311.3" r="4.6" fill="url(#glow)"/>
<circle cx="617.0" cy="311.5" r="4.6" fill="url(#glow)"/>
<circle cx="637.3" cy="303.8" r="4.6" fill="url(#glow)"/>
<circle cx="657.5" cy="306.0" r="4.6" fill="url(#glow)"/>
<circle cx="819.0" cy="460.5" r="4.6" fill="url(#glow)"/>
<line x1="131.0" y1="309.5" x2="131.0" y2="303.5" stroke="#c4cf9a" stroke-width="0.7" stroke-opacity="0.5"/>
<circle cx="131.0" cy="309.5" r="0.85" fill="#f2df2b"/>
<circle cx="293.0" cy="306.0" r="0.85" fill="#f2df2b"/>
<line x1="455.0" y1="308.5" x2="455.0" y2="318.0" stroke="#c4cf9a" stroke-width="0.7" stroke-opacity="0.5"/>
<circle cx="455.0" cy="308.5" r="0.85" fill="#f2df2b"/>
<circle cx="495.0" cy="304.3" r="0.85" fill="#f2df2b"/>
<line x1="637.3" y1="310.0" x2="637.3" y2="313.0" stroke="#c4cf9a" stroke-width="0.7" stroke-opacity="0.5"/>
<circle cx="637.3" cy="310.0" r="0.85" fill="#f2df2b"/>
<line x1="657.5" y1="294.5" x2="657.5" y2="291.0" stroke="#c4cf9a" stroke-width="0.7" stroke-opacity="0.5"/>
<circle cx="657.5" cy="294.5" r="0.85" fill="#f2df2b"/>
<line x1="738.5" y1="339.5" x2="738.5" y2="348.0" stroke="#c4cf9a" stroke-width="0.7" stroke-opacity="0.5"/>
<circle cx="738.5" cy="339.5" r="0.85" fill="#f2df2b"/>
<line x1="859.0" y1="461.5" x2="859.0" y2="467.0" stroke="#c4cf9a" stroke-width="0.7" stroke-opacity="0.5"/>
<circle cx="859.0" cy="461.5" r="0.85" fill="#f2df2b"/>
<text x="131.3" y="295.0" font-size="6.4" fill="#2aa9bd" text-anchor="middle">1982</text>
<text x="131.3" y="301.6" font-size="5.4" fill="#fff" text-anchor="middle">0.4B$</text>
<text x="293.0" y="313.8" font-size="6.4" fill="#2b3f7a" text-anchor="middle">1990</text>
<text x="293.0" y="320.4" font-size="5.4" fill="#fff" text-anchor="middle">0.7B$</text>
<text x="455.0" y="323.7" font-size="6.4" fill="#2b4a86" text-anchor="middle">1998</text>
<text x="455.0" y="330.3" font-size="5.4" fill="#fff" text-anchor="middle">20B$</text>
<text x="637.3" y="318.8" font-size="6.4" fill="#2d4c86" text-anchor="middle">2007</text>
<text x="637.3" y="325.4" font-size="5.4" fill="#fff" text-anchor="middle">4.8B$</text>
<text x="657.5" y="281.7" font-size="6.4" fill="#4d64e4" text-anchor="middle">2008</text>
<text x="657.5" y="288.3" font-size="5.4" fill="#fff" text-anchor="middle">2.8B$</text>
<text x="738.5" y="355.2" font-size="6.4" fill="#2c4a80" text-anchor="middle">2012</text>
<text x="738.5" y="361.8" font-size="5.4" fill="#d8f4f4" text-anchor="middle">42.6B$</text>
<text x="859.0" y="474.8" font-size="6.4" fill="#1f6a78" text-anchor="middle">2018</text>
<text x="859.0" y="481.4" font-size="5.4" fill="#d8f4f4" text-anchor="middle">7.6B$</text>
<circle cx="110.8" cy="332.0" r="9.2" fill="#fff"/>
<text x="110.8" y="334.7" font-size="7.2" font-weight="bold" font-family="'Liberation Serif',serif" fill="#3f82cc" text-anchor="middle">IBM</text>
<path d="M102 330.400h18M102 331.800h18M102 333.200h18" stroke="#fff" stroke-width="0.45"/>
<text x="110.8" y="355.8" font-size="13.6" fill="#2aa9c2" text-anchor="middle">1981</text>
<text x="110.8" y="368.2" font-size="8.7" fill="#fff" text-anchor="middle" font-weight="500">第一台PC IBM5150</text>
<circle cx="637.3" cy="220.8" r="9.2" fill="#fff"/>
<path transform="translate(637.3,220.2) scale(0.5)" fill="#000" d="M6.2 2.3c0-3 2.5-4.4 2.6-4.5-1.4-2.1-3.6-2.4-4.4-2.4-1.9-.2-3.6 1.1-4.6 1.1-.9 0-2.4-1.1-3.9-1-2 0-3.900 1.200-4.900 3-2.100 3.600-.500 9 1.500 12 1 1.400 2.200 3.100 3.700 3 1.500-.1 2.100-1 3.900-1s2.300 1 3.900.9c1.600 0 2.600-1.500 3.600-2.900 1.100-1.700 1.600-3.300 1.600-3.400-.1 0-3-1.200-3-4.800zM3.200-6.400c.800-1 1.400-2.400 1.200-3.800-1.200.1-2.600.8-3.500 1.800-.8.900-1.400 2.300-1.200 3.600 1.300.1 2.700-.600 3.500-1.600z"/>
<text x="637.3" y="243.7" font-size="14.2" fill="#4a60e2" text-anchor="middle">2007</text>
<text x="637.3" y="256.6" font-size="8.8" fill="#fff" text-anchor="middle" font-weight="500">首款</text>
<text x="637.3" y="266.3" font-size="8.8" fill="#fff" text-anchor="middle" font-weight="500">iPhone</text>
<text x="637.3" y="276.0" font-size="8.8" fill="#fff" text-anchor="middle" font-weight="500">发布</text>
<circle cx="617.2" cy="393.3" r="9.2" fill="#fff"/>
<text x="617.2" y="394" font-size="9.2" fill="#252f3e" text-anchor="middle" letter-spacing="-0.3">aws</text><path d="M610.2 395.6q7 4 14 0.200" fill="none" stroke="#f79a1c" stroke-width="1.1" stroke-linecap="round"/>
<text x="617.0" y="416.8" font-size="14.2" fill="#2aa9b8" text-anchor="middle">2006</text>
<text x="617.2" y="429.3" font-size="8.6" fill="#fff" text-anchor="middle" font-weight="500">亚马逊AWS</text>
<text x="617.2" y="438.7" font-size="8.6" fill="#fff" text-anchor="middle" font-weight="500">正式推出</text>
<circle cx="657.6" cy="425.2" r="9.2" fill="#fff"/>
<path d="M652.400 420.200q5.200-2 10.400 0l-.9 1.500q-1.800-.7-3.300-.7l-1 7.200-1-7.200q-1.500 0-3.300.7z" fill="#111"/>
<text x="657.9" y="432.4" font-size="2.5" fill="#222" text-anchor="middle" letter-spacing="0.9" font-weight="bold">TESLA</text>
<text x="657.4" y="448.4" font-size="14.2" fill="#3c7cd2" text-anchor="middle">2008</text>
<text x="657.4" y="461.2" font-size="8.7" fill="#fff" text-anchor="middle" font-weight="500">特斯拉</text>
<text x="657.4" y="471.1" font-size="8.7" fill="#fff" text-anchor="middle" font-weight="500">Roadster</text>
<text x="657.4" y="481.0" font-size="8.7" fill="#fff" text-anchor="middle" font-weight="500">诞生</text>
<circle cx="819.0" cy="489.3" r="9.2" fill="#fff"/>
<path d="M819 483.200l0 5M816.800 484.400l4.400 2.600M821.200 484.400l-4.400 2.600" stroke="#3d8fd8" stroke-width="0.8" fill="none"/>
<text x="819" y="493.2" font-size="3.2" fill="#777" text-anchor="middle">AlphaGo</text>
<text x="819.0" y="513.2" font-size="14.2" fill="#2aa9c2" text-anchor="middle">2016</text>
<text x="819.0" y="525.4" font-size="8.6" fill="#fff" text-anchor="middle" font-weight="500">第一个战</text>
<text x="819.0" y="535.1" font-size="8.6" fill="#fff" text-anchor="middle" font-weight="500">胜国棋世</text>
<text x="819.0" y="544.9" font-size="8.6" fill="#fff" text-anchor="middle" font-weight="500">界冠军的</text>
<text x="819.0" y="554.6" font-size="8.6" fill="#fff" text-anchor="middle" font-weight="500">AI机器人</text>
<text x="819.0" y="564.0" font-size="5.4" fill="#fff" text-anchor="middle">2.6B$</text>
<defs><linearGradient id="gi1" x1="-9" y1="-9" x2="9" y2="9" gradientUnits="userSpaceOnUse"><stop offset="0" stop-color="#1c9a8e"/><stop offset="1" stop-color="#3350b8"/></linearGradient><linearGradient id="gi2" x1="-9" y1="5" x2="9" y2="-5" gradientUnits="userSpaceOnUse"><stop offset="0" stop-color="#3a50ba"/><stop offset="1" stop-color="#1c9f92"/></linearGradient><linearGradient id="gi3" x1="0" y1="-10" x2="3" y2="10" gradientUnits="userSpaceOnUse"><stop offset="0" stop-color="#20a6a0"/><stop offset="1" stop-color="#3560c0"/></linearGradient></defs>
<g transform="translate(126.3,230.5)" fill="none" stroke="url(#gi1)" stroke-width="0.8" stroke-opacity="0.9" stroke-linecap="round" stroke-linejoin="round"><path d="M-0.3 -8.2H-9.0V3.5H-0.3"/><path d="M-0.3 -6.6H-7.3V1.9H-0.3"/><path d="M-0.7 3.8h-9.700l0.800 1.900h8.900"/><path d="M0.3 -6.9H8.5V4.7H0.3"/><path d="M0.3 -5.3H6.8V3.1H0.3"/><path d="M0.3 5.4h10.400l-0.900 2.300h-9.500"/><path d="M-0.300 -9.200v18"/><path d="M-2.600 -2a2.600 2.600 0 0 1 4.600 -0.800M2.200 0a2.600 2.600 0 0 1 -4.600 0.800M2.100 -4.100l0 1.400l-1.300 0M-2.500 2.100l0 -1.400l1.300 0"/></g>
<g transform="translate(194.0,230.0)" fill="none" stroke="url(#gi1)" stroke-width="0.8" stroke-opacity="0.85" stroke-linecap="round" stroke-linejoin="round"><path d="M-7.1 -5.2v-2.200a1 1 0 0 1 1 -1h12.600a1 1 0 0 1 1 1v15.400a1 1 0 0 1 -1 1h-12.600a1 1 0 0 1 -1 -1v-2.200"/><path d="M-0.41 0.22L-0.87 1.95L-1.98 2.00L-2.99 3.01L-3.03 4.12L-4.76 4.59L-5.36 3.65L-6.74 3.28L-7.72 3.80L-8.99 2.54L-8.48 1.55L-8.85 0.17L-9.79 -0.42L-9.33 -2.15L-8.22 -2.20L-7.21 -3.21L-7.17 -4.32L-5.44 -4.79L-4.84 -3.85L-3.46 -3.48L-2.48 -4.00L-1.21 -2.74L-1.72 -1.75L-1.35 -0.37Z"/><circle cx="-5.1" cy="-0.1" r="1.900"/><rect x="0.2" y="-7.9" width="1.800" height="2.600"/><rect x="0.2" y="5.3" width="1.800" height="2.800"/><rect x="3.5" y="-7.9" width="1.800" height="2.600"/><rect x="3.5" y="5.3" width="1.800" height="2.800"/><rect x="0.0" y="-3.9" width="6.800" height="1.700"/><rect x="0.0" y="-0.8" width="6.800" height="1.700"/><rect x="0.0" y="2.3" width="6.800" height="1.700"/></g>
<g transform="translate(259.0,230.0)" fill="none" stroke="url(#gi1)" stroke-width="0.8" stroke-opacity="0.85" stroke-linecap="round" stroke-linejoin="round"><path d="M0.40 -3.97L0.40 -1.83L-0.86 -1.44L-1.72 0.04L-1.43 1.33L-3.28 2.39L-4.25 1.50L-5.95 1.50L-6.92 2.39L-8.77 1.33L-8.48 0.04L-9.34 -1.44L-10.60 -1.83L-10.60 -3.97L-9.34 -4.36L-8.48 -5.84L-8.77 -7.13L-6.92 -8.19L-5.95 -7.30L-4.25 -7.30L-3.28 -8.19L-1.43 -7.13L-1.72 -5.84L-0.86 -4.36Z"/><circle cx="-5.1" cy="-2.9" r="3"/><rect x="-4.8" y="-2.6" width="14.600" height="11.600" rx="0.8" fill="#000"/><path d="M-4.8 0.3h14.600"/><path d="M-0.1 3.0l-1.600 1.600l1.600 1.600M4.3 3.0l1.600 1.600l-1.600 1.600M2.9 2.5l-1.400 4.200"/></g>
<g transform="translate(354.1,230.2)" fill="none" stroke="url(#gi2)" stroke-width="0.8" stroke-opacity="0.85" stroke-linecap="round" stroke-linejoin="round"><rect x="-6.700" y="-6.600" width="13.400" height="13.200" rx="0.4"/><path d="M-4.9 -6.800v-3.100M-4.9 6.800v3.100"/><path d="M-2.6 -6.800v-3.100M-2.6 6.800v3.100"/><path d="M-0.3 -6.800v-3.100M-0.3 6.800v3.100"/><path d="M2.2 -6.800v-3.100M2.2 6.800v3.100"/><path d="M4.5 -6.800v-3.100M4.5 6.800v3.100"/><path d="M-6.900 -4.6h-3.100M6.900 -4.6h3.100"/><path d="M-6.900 -1.6h-3.100M6.900 -1.6h3.100"/><path d="M-6.900 1.9h-3.100M6.900 1.9h3.100"/><path d="M-6.900 4.2h-3.100M6.900 4.2h3.100"/><path d="M-2.400 0.700l1.800 2.600l4.800 -6.100" stroke-width="1.100"/><rect x="-3.900" y="-2.800" width="3.300" height="1.800" fill="url(#gi2)" fill-opacity="0.5" stroke="none"/></g>
<g transform="translate(435.0,230.5)" fill="none" stroke="url(#gi1)" stroke-width="0.8" stroke-opacity="0.85" stroke-linecap="round" stroke-linejoin="round"><circle cx="-5.6" cy="-0.3" r="5"/><ellipse cx="-5.6" cy="-0.3" rx="2.300" ry="5"/><path d="M-10.6 -0.3h10M-5.6 -5.3v10M-9.9 -2.8h8.600M-9.9 2.2h8.600"/><rect x="1.0" y="-7.4" width="8.800" height="3.5" rx="0.3"/><rect x="1.0" y="-2.6" width="8.800" height="3.0" rx="0.3"/><rect x="1.0" y="1.7" width="8.800" height="3.3" rx="0.3"/><path d="M-9.9 7.0h19.700"/><circle cx="-5.6" cy="7.0" r="1.200" fill="#000"/><circle cx="5.3" cy="7.0" r="1.200" fill="#000"/><path d="M-5.6 4.7v1.100M5.3 5.0v0.800"/></g>
<g transform="translate(495.5,206.4)" fill="none" stroke="url(#gi3)" stroke-width="0.9" stroke-opacity="0.95" stroke-linecap="round" stroke-linejoin="round"><circle r="9.100"/><circle r="7.100" stroke-dasharray="4.300 1.275" stroke-width="1.100"/><circle r="5.300" stroke-width="0.8"/><circle r="3.300" fill="url(#gi3)" fill-opacity="0.6"/><path d="M-3.300 0h6.600M0 -3.300v6.600" stroke="#000" stroke-width="0.6" stroke-opacity="0.7"/></g>
<g transform="translate(637.5,146.5)" fill="none" stroke="url(#gi1)" stroke-width="0.8" stroke-opacity="0.9" stroke-linecap="round" stroke-linejoin="round"><path d="M-9.1 1.5L-2.6 -2.2L8.4 3.7L2.0 8.2Z"/><path d="M-9.1 1.5v1.700L2.0 10.0L8.4 5.5v-1.700"/><path d="M-7.2 4.5l-0.900 0.900"/><path d="M-5.4 5.6l-0.900 0.900"/><path d="M-3.5 6.8l-0.900 0.900"/><path d="M-1.7 7.9l-0.900 0.900"/><path d="M0.1 9.0l-0.900 0.900"/><path d="M3.6 9.0l0.900 0.900"/><path d="M5.2 7.8l0.900 0.900"/><path d="M6.8 6.7l0.900 0.900"/><circle cx="-2.0" cy="-7.7" r="1.500"/><circle cx="6.8" cy="-7.7" r="1.500"/><circle cx="2.5" cy="-3.6" r="2.500"/><circle cx="1.9" cy="2.7" r="1.400"/><path d="M-0.9 -6.6L0.7 -5.2M5.7 -6.6L4.3 -5.2M2.3 -1.1L2.0 1.3"/></g>
<g transform="translate(718.2,114.0)" fill="none" stroke="url(#gi2)" stroke-width="0.9" stroke-opacity="0.95" stroke-linecap="round" stroke-linejoin="round"><path d="M-7.4 1.4V-4.2Q-7.4 -6.6 -4.8 -6.6H3.4"/><path d="M1.6 -8.6l2.200 2l-2.200 2"/><path d="M7.4 -2.0V3.8Q7.4 6.5 4.6 6.5H-3.6"/><path d="M-1.8 4.5l-2.200 2l2.200 2"/></g>
<text x="718.8" y="116.200" font-size="6.300" text-anchor="middle" fill="url(#gi2t)" letter-spacing="-0.3">UVM</text>
<defs><linearGradient id="gi2t" x1="711" y1="0" x2="726" y2="0" gradientUnits="userSpaceOnUse"><stop offset="0" stop-color="#3a56c0"/><stop offset="1" stop-color="#1ca092"/></linearGradient><linearGradient id="gsv" x1="582" y1="0" x2="612" y2="0" gradientUnits="userSpaceOnUse"><stop offset="0" stop-color="#1ca092"/><stop offset="1" stop-color="#3a50c4"/></linearGradient></defs>
<path d="M588.900 160.600C592 155.300 607 155.300 610.400 160.600M582.900 166.200C586 170.800 600 171 604.400 165.700" fill="none" stroke="url(#gsv)" stroke-width="0.8" stroke-opacity="0.9"/>
<text x="596.8" y="165.300" font-size="4.700" text-anchor="middle" fill="url(#gsv)" font-weight="bold" textLength="29.5" lengthAdjust="spacingAndGlyphs">SystemVerilog</text>
<g transform="translate(900.5,48.5)" fill="none" stroke="url(#gi3)" stroke-width="0.85" stroke-opacity="0.95" stroke-linecap="round" stroke-linejoin="round"><path d="M-8.4 1.2V-10.4h5.600l0.600 1.500h9.100l1.600 1.400V1.2Z"/><rect x="-6.1" y="-7.7" width="13.700" height="8.400" fill="#000"/><path d="M-2.0 -4.2a2.600 2.600 0 0 1 4.300 -1.500M3.0 -3.0a2.600 2.600 0 0 1 -4.300 1.500M2.3 -5.7l0.200 -1.300M-1.3 -1.5l-0.200 1.300"/><path d="M-3.9 1.2v2.300M3.1 1.2v2.300M-7.6 3.5h14.600M-7.6 3.5v1.300M-0.4 3.5v1.300M7.0 3.5v1.300"/><path d="M-10.3 10.0v-5.300h2l0.500 0.900h3.300v4.400Z"/><path d="M-9.3 7.5h4"/><path d="M-3.2 10.0v-5.300h2l0.500 0.900h3.300v4.400Z"/><path d="M-2.2 7.5h4"/><path d="M3.9 10.0v-5.300h2l0.500 0.900h3.300v4.400Z"/><path d="M4.9 7.5h4"/></g>
</svg></body></html>
